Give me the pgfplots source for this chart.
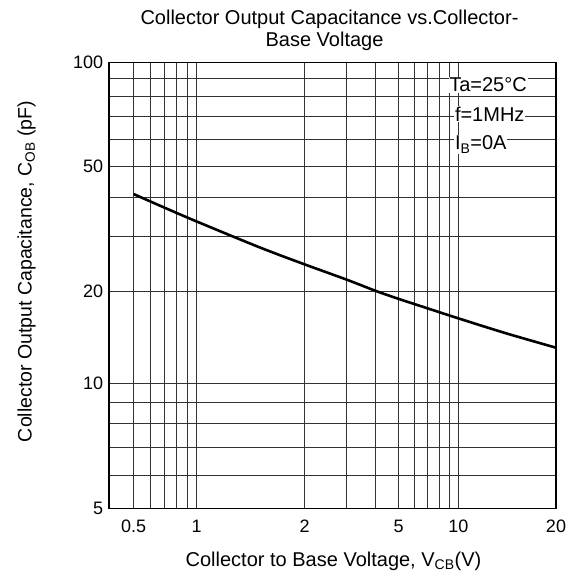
\documentclass[border=0pt]{standalone}
\usepackage{pgfplots}
\pgfplotsset{compat=1.18}
\usepackage{fontspec}
\setmainfont{Liberation Sans}

% the datasheet grid is hand drawn: each decade piece has its own length,
% so both axes map log10(value) piecewise onto the drawing (1 unit = 1pt)
\pgfplotsset{
  cob x/.style={
    x coord trafo/.code={%
      \begingroup
      \pgfkeys{/pgf/fpu=true,/pgf/fpu/output format=fixed}%
      \pgfmathparse{log10(##1)}\let\cL\pgfmathresult
      \pgfmathparse{ifthenelse(\cL<0,87.7+209.28*\cL,
        ifthenelse(\cL<0.30103,87.7+358.77*\cL,
        ifthenelse(\cL<0.69897,195.7+236.22*(\cL-0.30103),
        ifthenelse(\cL<1,289.7+197.99*(\cL-0.69897),
        349.3+324.55*(\cL-1)))))}%
      \global\let\cobres\pgfmathresult
      \endgroup
      \let\pgfmathresult\cobres},
  },
  cob y/.style={
    y coord trafo/.code={%
      \begingroup
      \pgfkeys{/pgf/fpu=true,/pgf/fpu/output format=fixed}%
      \pgfmathparse{log10(##1)}\let\cL\pgfmathresult
      \pgfmathparse{ifthenelse(\cL<1,415.24*(\cL-0.69897),
        ifthenelse(\cL<1.30103,125+304.29*(\cL-1),
        ifthenelse(\cL<1.69897,216.6+314.12*(\cL-1.30103),
        341.6+345.48*(\cL-1.69897))))}%
      \global\let\cobres\pgfmathresult
      \endgroup
      \let\pgfmathresult\cobres},
  },
}

\begin{document}
\begin{tikzpicture}
\begin{axis}[
  cob x, cob y,
  scale only axis,
  width=447pt, height=445.6pt,
  xmin=0.381, xmax=20,
  ymin=5, ymax=100,
  xtick={0.5,1,2,5,10,20},
  xticklabels={0.5,1,2,5,10,20},
  minor xtick={0.6,0.7,0.8,0.9,3,4,6,7,8,9},
  ytick={5,10,20,50,100},
  yticklabels={5,10,20,50,100},
  minor ytick={6,7,8,9,30,40,60,70,80,90},
  grid=both,
  major grid style={black!80, line width=0.9pt},
  minor grid style={black!80, line width=0.9pt},
  major tick length=0pt, minor tick length=0pt,
  axis line style={black, line width=1.5pt},
  ticklabel style={font=\fontsize{18}{20}\selectfont},
  xticklabel style={inner sep=0pt, anchor=north, yshift=-11.5pt},
  yticklabel style={inner sep=0pt, anchor=east, xshift=-5.7pt},
  clip=true,
]
\addplot[black, line width=2.6pt, smooth] coordinates {
  (0.5,40.9) (0.7,37.06) (1,33.46) (1.5,27.66) (2,24.43) (3,21.87)
  (4,20.11) (5,18.94) (7,17.63) (10,16.35) (14,14.61) (20,13.09)
};
\end{axis}

% annotations, titles and labels, positions in pt from the axis corner
\begin{scope}[every node/.style={font=\fontsize{20}{22}\selectfont}]
\node[anchor=base west, fill=white, inner sep=0.8pt] at (339.3pt,416.6pt) {Ta=25°C};
\node[anchor=base west, fill=white, inner sep=0.8pt] at (345pt,386.6pt) {f=1MHz};
\node[anchor=base west, fill=white, inner sep=0.8pt] at (345pt,358.3pt) {I\textsubscript{B}=0A};
\node[anchor=base] at (220.5pt,483.3pt) {Collector Output Capacitance vs.Collector-};
\node[anchor=base] at (215.5pt,461.3pt) {Base Voltage};
\node[anchor=base] at (224.5pt,-57.7pt) {Collector to Base Voltage, V\textsubscript{CB}(V)};
\node[anchor=base, rotate=90, font=\fontsize{19.5}{22}\selectfont] at (-77.3pt,236.8pt)
  {Collector Output Capacitance, C\textsubscript{OB} (pF)};
\end{scope}

\pgfresetboundingbox
\path[use as bounding box] (-109pt,-68.7pt) rectangle (457pt,508.3pt);
\end{tikzpicture}
\end{document}
